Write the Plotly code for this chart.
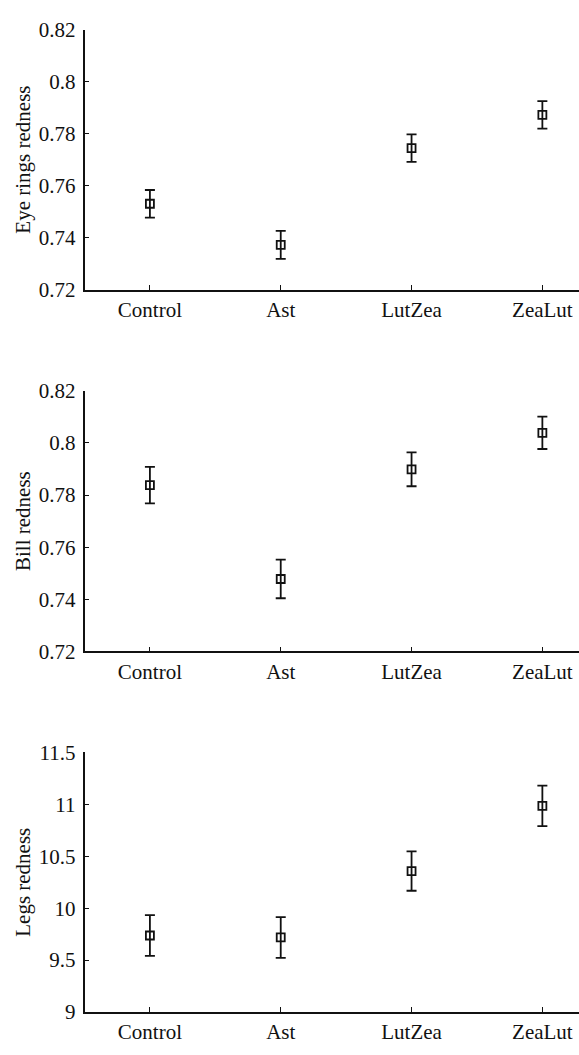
import plotly.graph_objects as go

# Treatment groups
groups = ["Control", "Ast", "LutZea", "ZeaLut"]

# Eye rings redness: means and error half-widths
eye_mean = [0.7530, 0.7372, 0.7744, 0.7872]
eye_err = [0.0053, 0.0054, 0.0053, 0.0053]

# Bill redness
bill_mean = [0.7838, 0.7478, 0.7899, 0.8039]
bill_err = [0.0070, 0.0074, 0.0065, 0.0062]

# Legs redness
legs_mean = [9.737, 9.718, 10.358, 10.986]
legs_err = [0.197, 0.196, 0.190, 0.195]

# Tick labels for the y axes
ratio_ticks = [0.72, 0.74, 0.76, 0.78, 0.80, 0.82]
ratio_text = ["0.72", "0.74", "0.76", "0.78", "0.8", "0.82"]
legs_ticks = [9, 9.5, 10, 10.5, 11, 11.5]
legs_text = ["9", "9.5", "10", "10.5", "11", "11.5"]

W, H = 579, 1055
FONT = "Liberation Serif"
INK = "#111111"
FS = 21

panels = [
    ("Eye rings redness", eye_mean, eye_err, ratio_ticks, ratio_text, (18, 284)),
    ("Bill redness", bill_mean, bill_err, ratio_ticks, ratio_text, (387.7, 654.3)),
    ("Legs redness", legs_mean, legs_err, legs_ticks, legs_text, (757.7, 1023.3)),
]

fig = go.Figure()
x_left = 84.5 / W

for i, (title, mean, err, tv, tt, (top, bottom)) in enumerate(panels):
    n = "" if i == 0 else str(i + 1)
    fig.add_trace(go.Scatter(
        x=groups, y=mean,
        mode="markers",
        marker=dict(symbol="square-open", size=8, color=INK, line=dict(width=1.8, color=INK)),
        error_y=dict(type="data", array=err, visible=True, color=INK, thickness=1.8, width=5),
        xaxis="x" + n, yaxis="y" + n,
        showlegend=False,
    ))
    ax_common = dict(
        showline=True, linecolor=INK, linewidth=1.8,
        ticks="inside", ticklen=5, tickwidth=1.4, tickcolor=INK,
        showgrid=False, zeroline=False, mirror=False,
        tickfont=dict(family=FONT, size=FS, color=INK),
    )
    fig.update_layout(**{
        "xaxis" + n: dict(
            domain=[x_left, 1.0],
            anchor="y" + n,
            type="category",
            categoryorder="array", categoryarray=groups,
            range=[-0.5, 3.28],
            **ax_common,
        ),
        "yaxis" + n: dict(
            domain=[1 - bottom / H, 1 - top / H],
            anchor="x" + n,
            range=[tv[0], tv[-1]],
            tickvals=tv, ticktext=tt,
            ticklabelstandoff=3,
            title=dict(text=title, font=dict(family=FONT, size=FS, color=INK), standoff=2),
            **ax_common,
        ),
    })

fig.update_layout(
    width=W, height=H,
    margin=dict(l=0, r=0, t=0, b=0),
    paper_bgcolor="white", plot_bgcolor="white",
    font=dict(family=FONT, color=INK),
)

fig.write_html("out.html")
